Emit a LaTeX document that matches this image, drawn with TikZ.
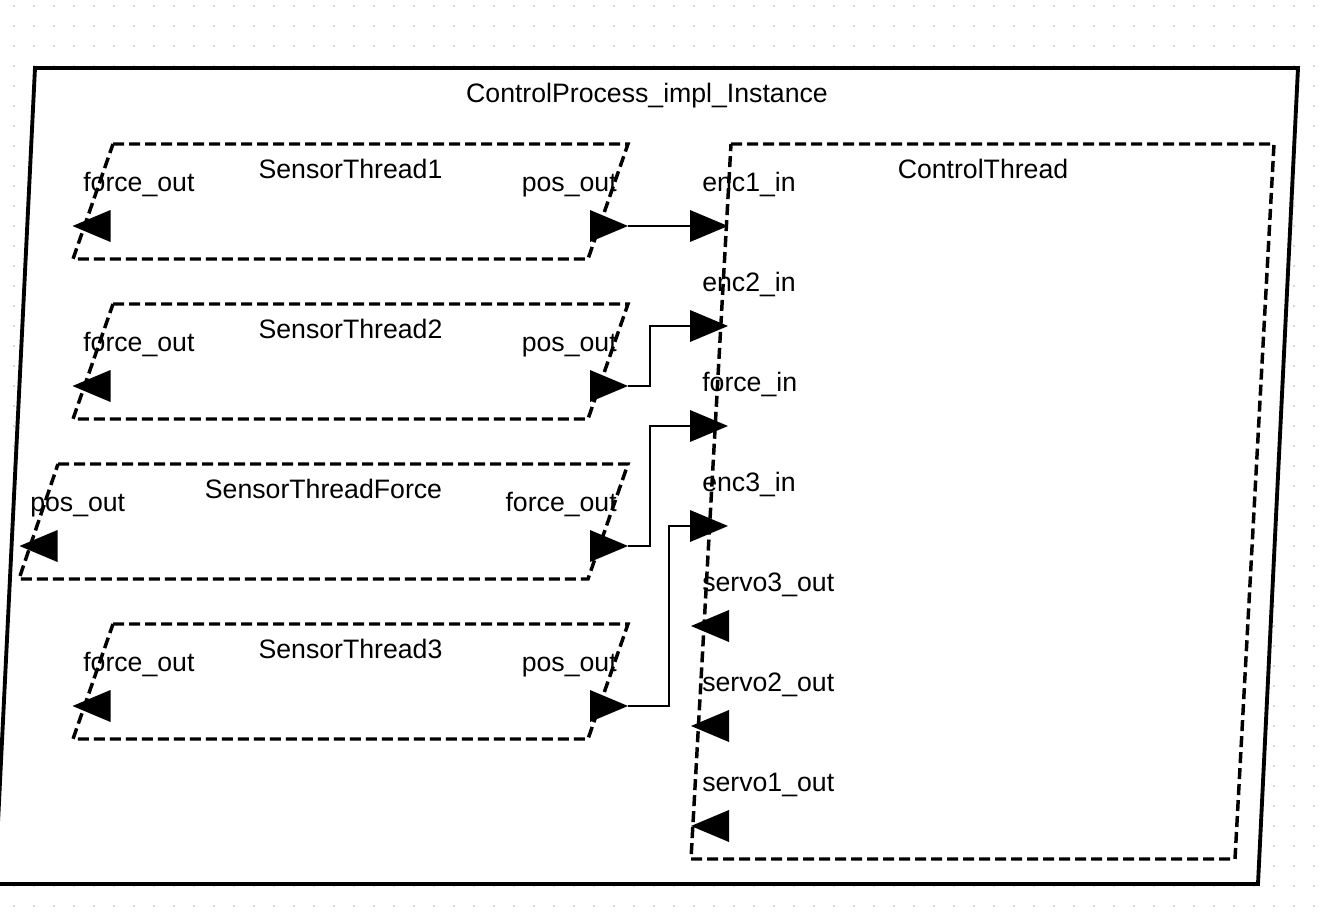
\documentclass[tikz,border=0pt]{standalone}
\usepackage{fontspec}
\setmainfont{Liberation Sans}
\begin{document}
\begin{tikzpicture}[x=0.75pt,y=-0.75pt,
  lbl/.style={font=\fontsize{20pt}{22pt}\selectfont, inner sep=0pt},
  lblw/.style={lbl, anchor=base west},
  lble/.style={lbl, anchor=base east},
  ttl/.style={lbl, anchor=base},
  dashbox/.style={line width=2.6pt, dash pattern=on 8.25pt off 3.75pt, fill=white},
  outerbox/.style={line width=2.9pt, fill=white, line join=miter},
  conn/.style={line width=1.15pt},
  portR/.pic={\fill (-19,-16) -- (19,0) -- (-19,16) -- cycle;},
  portL/.pic={\fill (19,-16) -- (-19,0) -- (19,16) -- cycle;}]
\definecolor{dotgray}{RGB}{200,200,200}
\useasboundingbox (0,0) rectangle (1322,918);
% dotted grid
\foreach \i in {0,...,65}{\foreach \j in {0,...,45}{\fill[dotgray] (14+20*\i,6+20*\j) circle[radius=1.1];}}
% outer process
\draw[outerbox] (35,68) -- (1298,68) -- (1258,884) -- (-5,884) -- cycle;
\node[ttl] (ptitle) at (647,102) {ControlProcess\_impl\_Instance};
% sensor threads
\draw[dashbox] (113,144) -- (628,144) -- (588,259) -- (73,259) -- cycle;
\draw[dashbox] (113,304) -- (628,304) -- (588,419) -- (73,419) -- cycle;
\draw[dashbox] (58,464) -- (628,464) -- (588,579) -- (19,579) -- cycle;
\draw[dashbox] (113,624) -- (628,624) -- (588,739) -- (73,739) -- cycle;
% control thread
\draw[dashbox] (731,144) -- (1274,144) -- (1235,859) -- (691,859) -- cycle;
% titles
\node[ttl] (t1) at (350.5,178) {SensorThread1};
\node[ttl] (t2) at (350.5,338) {SensorThread2};
\node[ttl] (tf) at (323.5,498) {SensorThreadForce};
\node[ttl] (t3) at (350.5,658) {SensorThread3};
\node[ttl] (tc) at (983,178) {ControlThread};
% sensor port labels
\node[lblw] (l1f) at (83,191) {force\_out};
\node[lble] (l1p) at (617,191) {pos\_out};
\node[lblw] (l2f) at (83,351) {force\_out};
\node[lble] (l2p) at (617,351) {pos\_out};
\node[lblw] (lfp) at (30,511) {pos\_out};
\node[lble] (lff) at (617,511) {force\_out};
\node[lblw] (l3f) at (83,671) {force\_out};
\node[lble] (l3p) at (617,671) {pos\_out};
% control thread port labels
\node[lblw] (lc1) at (702,191) {enc1\_in};
\node[lblw] (lc2) at (702,291) {enc2\_in};
\node[lblw] (lc3) at (702,391) {force\_in};
\node[lblw] (lc4) at (702,491) {enc3\_in};
\node[lblw] (lc5) at (702,591) {servo3\_out};
\node[lblw] (lc6) at (702,691) {servo2\_out};
\node[lblw] (lc7) at (702,791) {servo1\_out};
% port triangles
\pic at (91.5,226) {portL};
\pic at (91.5,386) {portL};
\pic at (38.5,546) {portL};
\pic at (91.5,706) {portL};
\pic at (609,226) {portR};
\pic at (609,386) {portR};
\pic at (609,546) {portR};
\pic at (609,706) {portR};
\pic at (709,226) {portR};
\pic at (709,326) {portR};
\pic at (709,426) {portR};
\pic at (709,526) {portR};
\pic at (710,626) {portL};
\pic at (710,726) {portL};
\pic at (710,826) {portL};
% port coordinates
\coordinate (s1pos) at (628,226);
\coordinate (s2pos) at (628,386);
\coordinate (sfforce) at (628,546);
\coordinate (s3pos) at (628,706);
\coordinate (enc1) at (690,226);
\coordinate (enc2) at (690,326);
\coordinate (forcein) at (690,426);
\coordinate (enc3) at (690,526);
% connectors
\draw[conn] (s1pos) -- (enc1);
\draw[conn] (s2pos) -- ++(22,0) |- (enc2);
\draw[conn] (sfforce) -- ++(22,0) |- (forcein);
\draw[conn] (s3pos) -- ++(41,0) |- (enc3);
\end{tikzpicture}
\end{document}
